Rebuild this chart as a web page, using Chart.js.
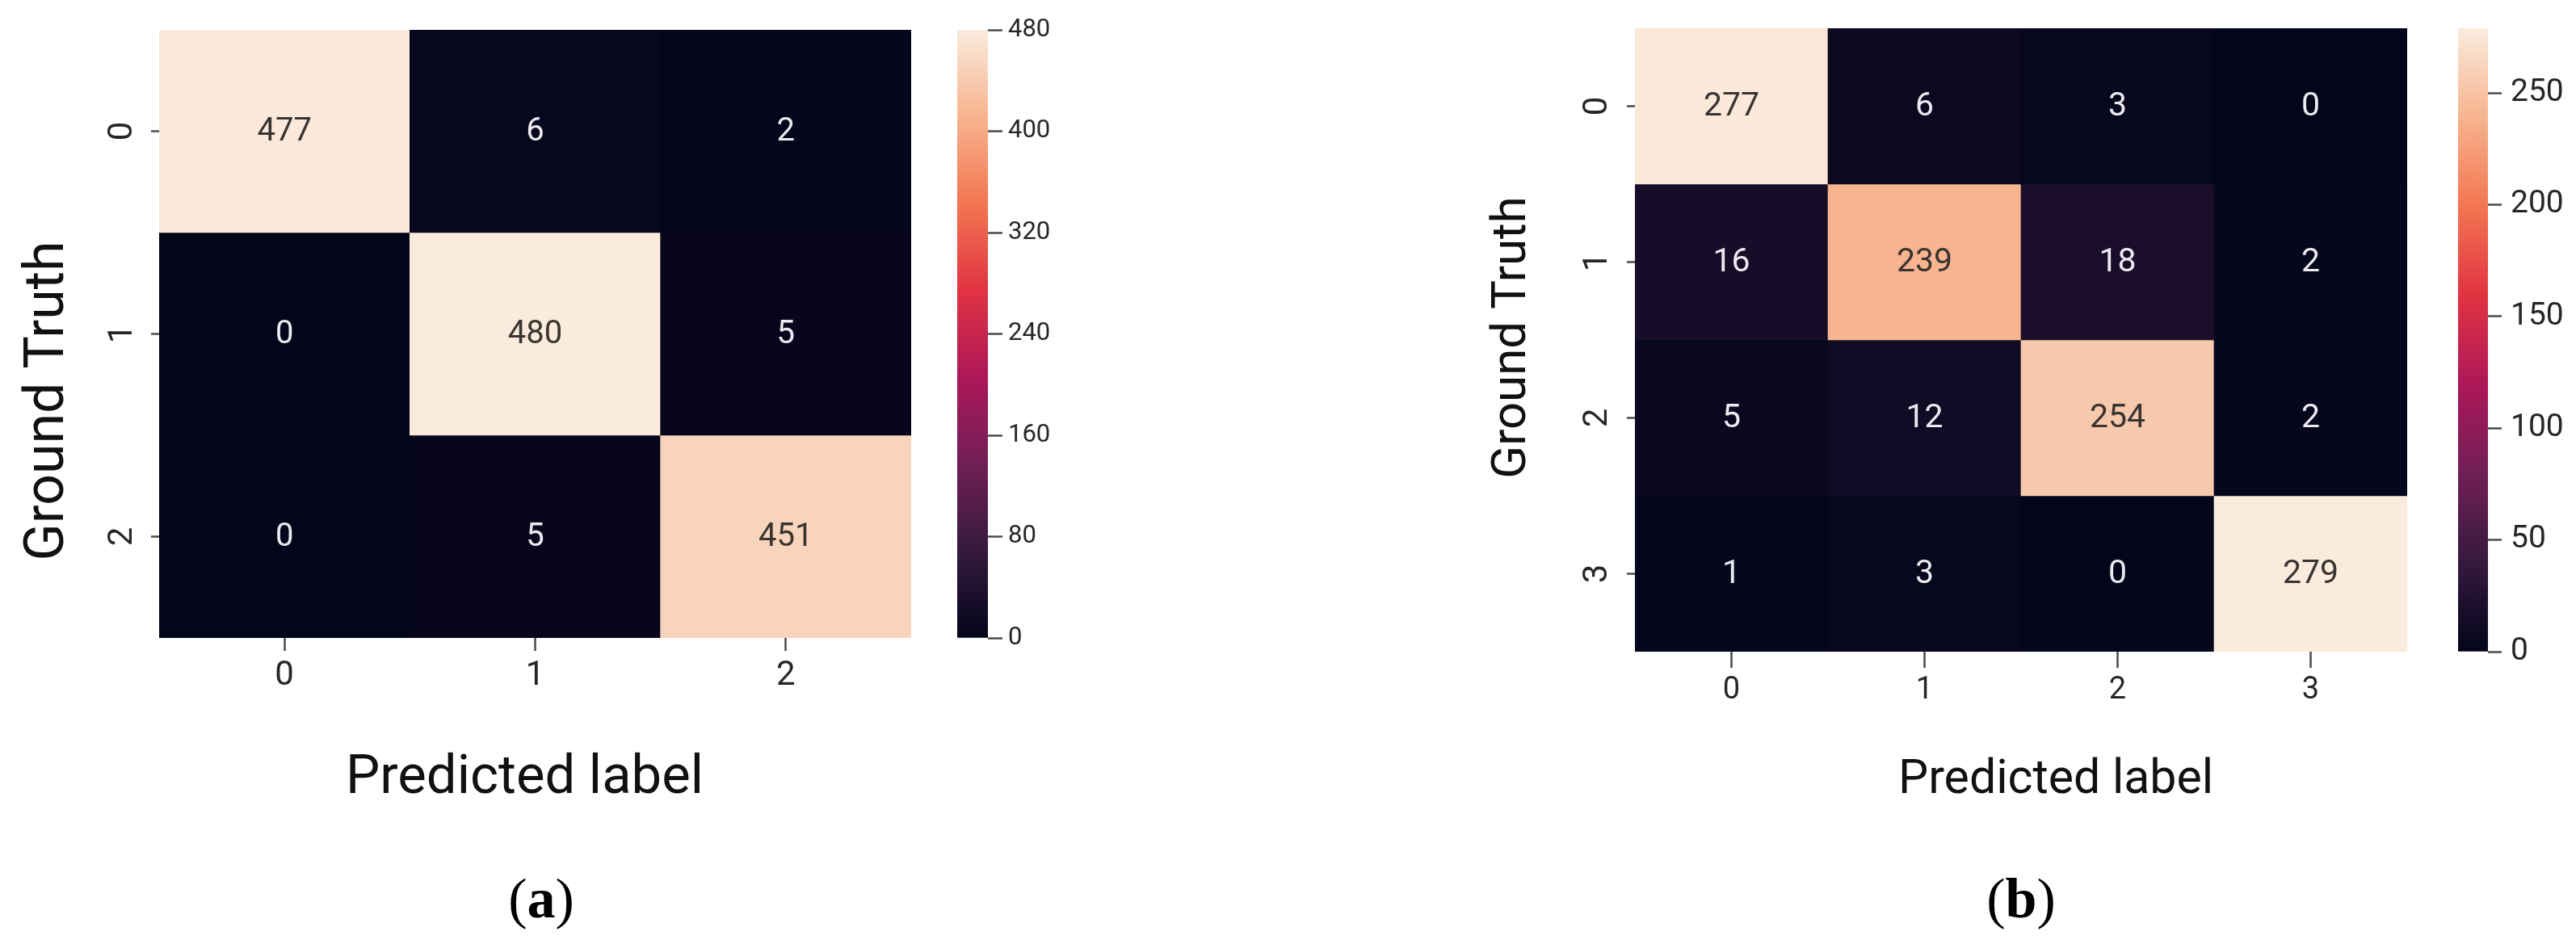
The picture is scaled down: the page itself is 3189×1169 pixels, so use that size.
<!DOCTYPE html>
<html>
<head>
<meta charset="utf-8">
<script src="https://cdn.jsdelivr.net/npm/chart.js@4.4.1/dist/chart.umd.min.js"></script>
<style>
body { margin: 0; background: #fff; width: 3189px; height: 1169px; position: relative; overflow: hidden; }
canvas { position: absolute; top: 0; }
.cap { position: absolute; width: 400px; text-align: center; font-family: "Liberation Serif", serif; font-size: 70px; line-height: 70px; color: #000; }
.cap b { font-weight: bold; }
</style>
</head>
<body>
<canvas id="heatA" width="1150" height="1169" style="left:0px"></canvas>
<canvas id="barA" width="250" height="1169" style="left:1150px"></canvas>
<canvas id="heatB" width="1220" height="1169" style="left:1780px"></canvas>
<canvas id="barB" width="189" height="1169" style="left:3000px"></canvas>
<div class="cap" style="left:470px;top:1078px">(<b>a</b>)</div>
<div class="cap" style="left:2302px;top:1078px">(<b>b</b>)</div>
<script>
// (a) 3 classes
const classesA = ['0', '1', '2'];
const rowsA = [
	[477, 6, 2],
	[0, 480, 5],
	[0, 5, 451]
];
const barTicksA = [0, 80, 160, 240, 320, 400, 480];
const vmaxA = 480;

// (b) 4 classes
const classesB = ['0', '1', '2', '3'];
const rowsB = [
	[277, 6, 3, 0],
	[16, 239, 18, 2],
	[5, 12, 254, 2],
	[1, 3, 0, 279]
];
const barTicksB = [0, 50, 100, 150, 200, 250];
const vmaxB = 279;

// seaborn "rocket"
const rocket = [
	[0, 3, 5, 26], [1 / 7, 53, 25, 62], [2 / 7, 112, 31, 87], [3 / 7, 173, 23, 89],
	[4 / 7, 225, 51, 66], [5 / 7, 243, 118, 81], [6 / 7, 246, 180, 143], [1, 250, 235, 221]
];

function rocketColor(t) {
	t = Math.max(0, Math.min(1, t));
	for (let i = 1; i < rocket.length; i++) {
		if (t <= rocket[i][0]) {
			const a = rocket[i - 1], b = rocket[i];
			const f = (t - a[0]) / (b[0] - a[0]);
			const c = [1, 2, 3].map(k => Math.round(a[k] + (b[k] - a[k]) * f));
			return 'rgb(' + c.join(',') + ')';
		}
	}
}

Chart.defaults.font.family = 'Roboto';
Chart.defaults.color = '#262626';

const heatText = {
	id: 'heatText',
	afterDatasetsDraw(chart, args, o) {
		const ctx = chart.ctx;
		ctx.save();
		ctx.font = o.cellSize + 'px Roboto';
		ctx.textAlign = 'center';
		ctx.textBaseline = 'middle';
		chart.data.datasets.forEach((ds, r) => {
			chart.getDatasetMeta(r).data.forEach((bar, c) => {
				const p = bar.getProps(['x', 'y', 'base'], true);
				const v = o.rows[r][c];
				ctx.fillStyle = v / o.vmax > 0.5 ? '#3a3431' : '#ebeaf0';
				ctx.fillText(String(v), p.x, (p.y + p.base) / 2 + 1);
			});
		});
		ctx.restore();
	},
	afterDraw(chart, args, o) {
		const ctx = chart.ctx;
		const area = chart.chartArea;
		const ys = chart.scales.y;
		ctx.save();
		// row labels, turned like matplotlib does
		ctx.fillStyle = '#262626';
		ctx.font = o.tickSize + 'px Roboto';
		ctx.textAlign = 'center';
		ctx.textBaseline = 'middle';
		ys.ticks.forEach((t, i) => {
			ctx.save();
			ctx.translate(area.left - o.tickGap, ys.getPixelForValue(t.value));
			ctx.rotate(-Math.PI / 2);
			ctx.fillText(o.labels[i], 0, 0);
			ctx.restore();
		});
		// axis titles
		ctx.fillStyle = '#111';
		ctx.textBaseline = 'alphabetic';
		ctx.font = o.xTitle.size + 'px Roboto';
		ctx.fillText('Predicted label', (area.left + area.right) / 2 + o.xTitle.dx, area.bottom + o.xTitle.dy);
		ctx.font = o.yTitle.size + 'px Roboto';
		ctx.translate(area.left - o.yTitle.dx, (area.top + area.bottom) / 2 + o.yTitle.dy);
		ctx.rotate(-Math.PI / 2);
		ctx.fillText('Ground Truth', 0, 0);
		ctx.restore();
	}
};

function heatmap(id, classes, rows, vmax, s) {
	const datasets = rows.map((row, r) => ({
		data: classes.map(() => [r, r + 1]),
		backgroundColor: row.map(v => rocketColor(v / vmax)),
		borderWidth: 0,
		grouped: false,
		barPercentage: 1,
		categoryPercentage: 1
	}));
	return new Chart(document.getElementById(id), {
		type: 'bar',
		data: { labels: classes, datasets: datasets },
		plugins: [heatText],
		options: {
			responsive: false,
			animation: false,
			events: [],
			layout: { padding: { top: s.top, right: s.right, left: 0, bottom: 0 } },
			plugins: {
				legend: { display: false },
				tooltip: { enabled: false },
				heatText: {
					rows: rows, vmax: vmax, labels: classes,
					cellSize: s.cellSize, tickSize: s.yTickSize, tickGap: s.yTickGap,
					xTitle: s.xTitle, yTitle: s.yTitle
				}
			},
			scales: {
				x: {
					ticks: { font: { size: s.xTickSize }, color: '#262626', padding: s.xPad },
					grid: { drawOnChartArea: false, offset: false, tickLength: s.xTick, tickColor: '#4a4a4a', tickWidth: 2.5 },
					border: { display: false },
					afterFit: scale => { scale.height = s.xHeight; }
				},
				y: {
					min: 0,
					max: classes.length,
					reverse: true,
					afterBuildTicks: scale => { scale.ticks = classes.map((c, i) => ({ value: i + 0.5 })); },
					ticks: { display: false },
					grid: { drawOnChartArea: false, tickLength: 10, tickColor: '#4a4a4a', tickWidth: 2.5 },
					border: { display: false },
					afterFit: scale => { scale.width = s.yWidth; }
				}
			}
		}
	});
}

function colorbar(id, vmax, ticks, s) {
	return new Chart(document.getElementById(id), {
		type: 'bar',
		data: {
			labels: [''],
			datasets: [{
				data: [[0, vmax]],
				borderWidth: 0,
				barPercentage: 1,
				categoryPercentage: 1,
				backgroundColor: context => {
					const area = context.chart.chartArea;
					if (!area) return null;
					const g = context.chart.ctx.createLinearGradient(0, area.bottom, 0, area.top);
					rocket.forEach(st => g.addColorStop(st[0], 'rgb(' + st[1] + ',' + st[2] + ',' + st[3] + ')'));
					return g;
				}
			}]
		},
		options: {
			responsive: false,
			animation: false,
			events: [],
			layout: { padding: { top: s.top, bottom: s.bottom, left: s.left, right: 0 } },
			plugins: { legend: { display: false }, tooltip: { enabled: false } },
			scales: {
				x: { display: false },
				y: {
					position: 'right',
					min: 0,
					max: vmax,
					afterBuildTicks: scale => { scale.ticks = ticks.map(v => ({ value: v })); },
					ticks: { font: { size: s.size }, color: '#262626', padding: s.pad },
					grid: { drawOnChartArea: false, tickLength: s.tick, tickColor: '#4a4a4a', tickWidth: 2.5 },
					border: { display: false },
					afterFit: scale => { scale.width = s.width; }
				}
			}
		}
	});
}

heatmap('heatA', classesA, rowsA, vmaxA, {
	top: 37, right: 22, yWidth: 197, xHeight: 379,
	cellSize: 40, xTickSize: 42, yTickSize: 42, yTickGap: 45,
	xTick: 16, xPad: 6,
	xTitle: { size: 67, dx: -13, dy: 192 },
	yTitle: { size: 68, dx: 119, dy: 83 }
});
colorbar('barA', vmaxA, barTicksA, { top: 37, bottom: 379, left: 35, width: 177, size: 31, tick: 18, pad: 7 });

heatmap('heatB', classesB, rowsB, vmaxB, {
	top: 35, right: 20, yWidth: 244, xHeight: 362,
	cellSize: 41, xTickSize: 38, yTickSize: 42, yTickGap: 46,
	xTick: 20, xPad: 6,
	xTitle: { size: 59, dx: 43, dy: 175 },
	yTitle: { size: 60, dx: 136, dy: -3 }
});
colorbar('barB', vmaxB, barTicksB, { top: 35, bottom: 362, left: 43, width: 109, size: 39, tick: 17, pad: 11 });
</script>
</body>
</html>
